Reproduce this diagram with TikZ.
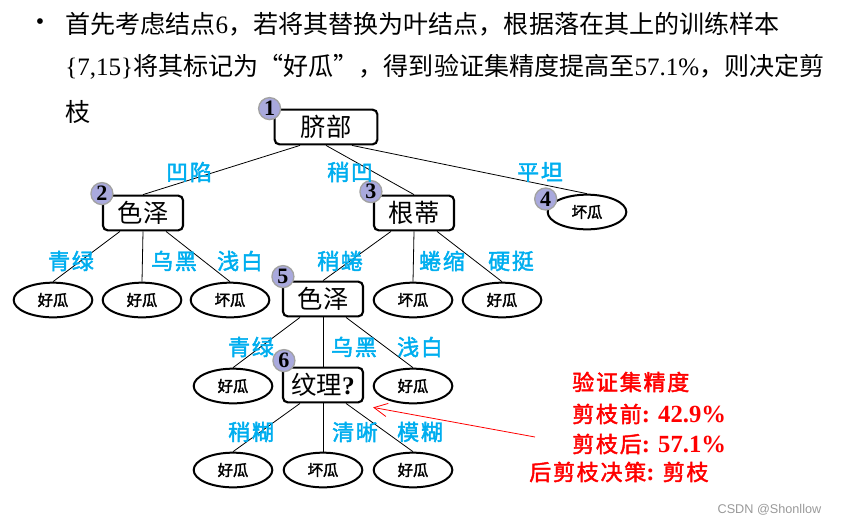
\documentclass[tikz,border=0pt]{standalone}
\usepackage{fontspec}
\setmainfont{Noto Sans CJK SC}[AutoFakeBold=2]
\newfontfamily\lat{Liberation Serif}
\newfontfamily\cjkls{Noto Sans CJK SC}[LetterSpace=8,AutoFakeBold=2]
\newfontfamily\wmfont{Liberation Sans}
\usepackage{tikz}
\usetikzlibrary{positioning, arrows.meta, shapes.geometric, calc}
\usepackage{xcolor}
\definecolor{skyblue}{HTML}{00AEEF}
\definecolor{badgefill}{HTML}{A9A9DD}
\definecolor{badgeedge}{HTML}{A2A2A2}
\definecolor{notered}{HTML}{FF0000}
\definecolor{wmgray}{HTML}{999999}
\newcommand{\notenum}[1]{{\lat\fontsize{18.5}{18.5}\selectfont #1}}

\begin{document}
\begin{tikzpicture}[
    x=0.75pt, y=-0.75pt,
    attr/.style={draw, line width=1.6pt, rounded corners=3.5pt, minimum width=60pt, minimum height=26pt, inner sep=0pt, font=\fontsize{19}{20}\selectfont},
    leaf/.style={draw, ellipse, line width=1.5pt, minimum width=59pt, minimum height=26pt, inner sep=0pt, font=\fontsize{11.5}{12}\selectfont\bfseries},
    badge/.style={circle, draw=badgeedge, line width=1pt, fill=badgefill, minimum size=16.5pt, inner sep=0pt, font=\lat\fontsize{16.5}{16.5}\selectfont\bfseries},
    val/.style={text=skyblue, inner sep=0pt, font=\cjkls\fontsize{16.5}{16.5}\selectfont\bfseries},
    body/.style={anchor=west, inner sep=0pt, font=\fontsize{18.8}{20}\selectfont},
    note/.style={anchor=west, inner sep=0pt, text=notered, font=\cjkls\fontsize{16.5}{16.5}\selectfont\bfseries},
    edge/.style={line width=0.6pt},
    arr/.style={-{Straight Barb[length=10pt, width=10pt]}, notered, line width=0.6pt}
]
\useasboundingbox (0,0) rectangle (841,525);

% Bullet text
\node[font=\lat\fontsize{18}{18}\selectfont] (dot) at (40,24) {•};
\node[body] (line1) at (65,24) {首先考虑结点{\lat 6}，若将其替换为叶结点，根据落在其上的训练样本};
\node[body] (line2) at (65,67) {{\lat\{7,15\}}将其标记为“好瓜”，得到验证集精度提高至{\lat 57.1\%}，则决定剪};
\node[body] (line3) at (65,112) {枝};

% Root
\node[attr, minimum width=77pt] (n1) at (326,127) {脐部};

% Second level
\node[attr] (n2) at (143,213) {色泽};
\node[attr] (n3) at (414,213) {根蒂};
\node[leaf] (n4) at (587,212) {坏瓜};

% Third level
\node[leaf] (l21) at (53,300) {好瓜};
\node[leaf] (l22) at (142,300) {好瓜};
\node[leaf] (l23) at (230,300) {坏瓜};
\node[attr] (n5) at (323,299) {色泽};
\node[leaf] (l31) at (413,300) {坏瓜};
\node[leaf] (l32) at (502,300) {好瓜};

% Fourth level
\node[leaf] (l51) at (233,386) {好瓜};
\node[attr] (n6) at (323,385) {纹理{\lat\bfseries ?}};
\node[leaf] (l52) at (413,386) {好瓜};

% Fifth level
\node[leaf] (l61) at (233,470) {好瓜};
\node[leaf] (l62) at (323,470) {坏瓜};
\node[leaf] (l63) at (413,470) {好瓜};

% Numbers
\node[badge] (b1) at ($(n1.north west)+(-4,0)$) {1};
\node[badge] (b2) at ($(n2.north west)+(0,-1)$) {2};
\node[badge] (b3) at ($(n3.north west)+(-2,-3)$) {3};
\node[badge] (b4) at ($(n4.west)+(-1,-13)$) {4};
\node[badge] (b5) at ($(n5.north west)+(1,-4)$) {5};
\node[badge] (b6) at ($(n6.north west)+(2,-6)$) {6};

% Edges
\draw[edge] ($(n1.south)+(-26,0)$) -- (n2.north);
\draw[edge] (n1.south) -- (n3.north);
\draw[edge] ($(n1.south)+(26,0)$) -- (n4.north);
\draw[edge] ($(n2.south)+(-23,0)$) -- (l21.north);
\draw[edge] (n2.south) -- (l22.north);
\draw[edge] ($(n2.south)+(23,0)$) -- (l23.north);
\draw[edge] ($(n3.south)+(-23,0)$) -- (n5.north);
\draw[edge] (n3.south) -- (l31.north);
\draw[edge] ($(n3.south)+(23,0)$) -- (l32.north);
\draw[edge] ($(n5.south)+(-23,0)$) -- (l51.north);
\draw[edge] (n5.south) -- (n6.north);
\draw[edge] ($(n5.south)+(23,0)$) -- (l52.north);
\draw[edge] ($(n6.south)+(-23,0)$) -- (l61.north);
\draw[edge] (n6.south) -- (l62.north);
\draw[edge] ($(n6.south)+(23,0)$) -- (l63.north);

% Edge values
\node[val] (v11) at (189,172) {凹陷};
\node[val] (v12) at (350,172) {稍凹};
\node[val] (v13) at (540,172) {平坦};
\node[val] (v21) at (71,261) {青绿};
\node[val] (v22) at (174,261) {乌黑};
\node[val] (v23) at (240,261) {浅白};
\node[val] (v31) at (340,261) {稍蜷};
\node[val] (v32) at (442,261) {蜷缩};
\node[val] (v33) at (511,261) {硬挺};
\node[val] (v51) at (251,347) {青绿};
\node[val] (v52) at (354,347) {乌黑};
\node[val] (v53) at (420,347) {浅白};
\node[val] (v61) at (251,432) {稍糊};
\node[val] (v62) at (355,432) {清晰};
\node[val] (v63) at (420,432) {模糊};

% Accuracy note
\node[note] (acc) at (572,382) {验证集精度};
\node[note] (pre) at (572,414) {剪枝前\notenum{: 42.9\%}};
\node[note] (post) at (572,444) {剪枝后\notenum{: 57.1\%}};
\node[note] (dec) at (529,472) {后剪枝决策\notenum{: }剪枝};
\coordinate (tail) at (535,437);
\draw[arr] (tail) -- ($(n6.south east)+(9,4)$);

% Watermark
\node[anchor=east, text=wmgray, font=\wmfont\fontsize{9.5}{10}\selectfont] (wm) at (826,510) {CSDN @Shonllow};

\end{tikzpicture}
\end{document}
